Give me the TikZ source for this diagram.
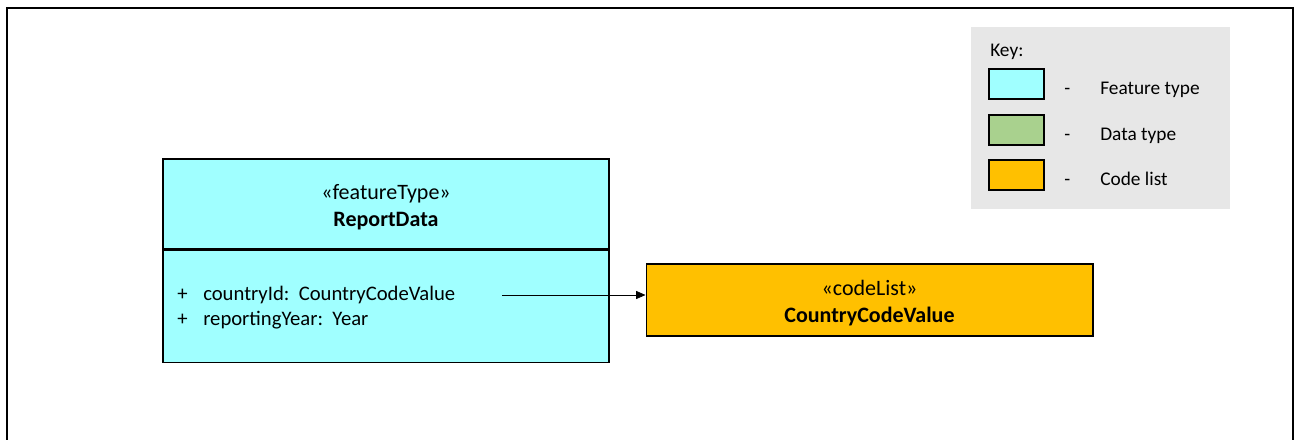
\documentclass[tikz,border=0pt]{standalone}
\usepackage{fontspec}
\setmainfont{Carlito}
\usetikzlibrary{positioning,arrows.meta}
\definecolor{feature}{HTML}{A0FFFF}
\definecolor{datatype}{HTML}{A9D18E}
\definecolor{codelist}{HTML}{FFC000}
\definecolor{keybg}{HTML}{E7E7E7}
\tikzset{
  umlbox/.style={draw, line width=1pt, inner sep=0},
  umltext/.style={align=center, inner sep=0, font=\fontsize{16.5}{20}\selectfont},
  swatch/.style={draw, line width=1.6pt, minimum width=41pt, minimum height=22pt, inner sep=0},
  keytext/.style={anchor=base west, inner sep=0, font=\fontsize{14.5}{17}\selectfont}
}
\begin{document}
\begin{tikzpicture}[x=0.75pt,y=-0.75pt]
    \useasboundingbox (0,0) rectangle (1298,439);
    \draw[line width=1.6pt] (7,445) |- (1293,8) -- (1293,445);
    % key
    \fill[keybg] (971,27) rectangle (1230,209);
    \node[keytext] (K) at (990,56) {Key:};
    \node[swatch, fill=feature] (K1) at (1016.5,84) {};
    \node[swatch, fill=datatype] (K2) at (1016.5,130) {};
    \node[swatch, fill=codelist] (K3) at (1016.5,175) {};
    \foreach \n/\t in {K1/Feature type, K2/Data type, K3/Code list}{
        \node[keytext, yshift=-7.5pt] at (1064,0 |- \n) {-};
        \node[keytext, yshift=-7.5pt] at (1100,0 |- \n) {\t};
    }
    % classes
    \node[umlbox, fill=feature, minimum width=334.5pt, minimum height=67.5pt]
        (RD) at (386,204) {};
    \node[umltext] (RDname) at ([yshift=-2.25pt]RD.center) {«featureType»\\\textbf{ReportData}};
    \node[umlbox, fill=feature, minimum width=334.5pt, minimum height=84pt,
        below=0pt of RD] (RDattr) {};
    \node[anchor=west, inner sep=0, align=left, font=\fontsize{15.5}{18.75}\selectfont]
        (attrs) at (177,308)
        {\makebox[19.5pt][l]{+}countryId:\ \ CountryCodeValue\\
         \makebox[19.5pt][l]{+}reportingYear:\ \ Year};
    \node[umlbox, fill=codelist, minimum width=335pt, minimum height=54pt]
        (CCV) at (869.5,300) {};
    \node[umltext] (CCVname) at ([yshift=-2.25pt]CCV.center) {«codeList»\\\textbf{CountryCodeValue}};
    \coordinate (att) at (502,295);
    \draw[-{Triangle[length=7pt,width=6pt]}, line width=0.5pt] (att) -- (att -| CCV.west);
\end{tikzpicture}
\end{document}
